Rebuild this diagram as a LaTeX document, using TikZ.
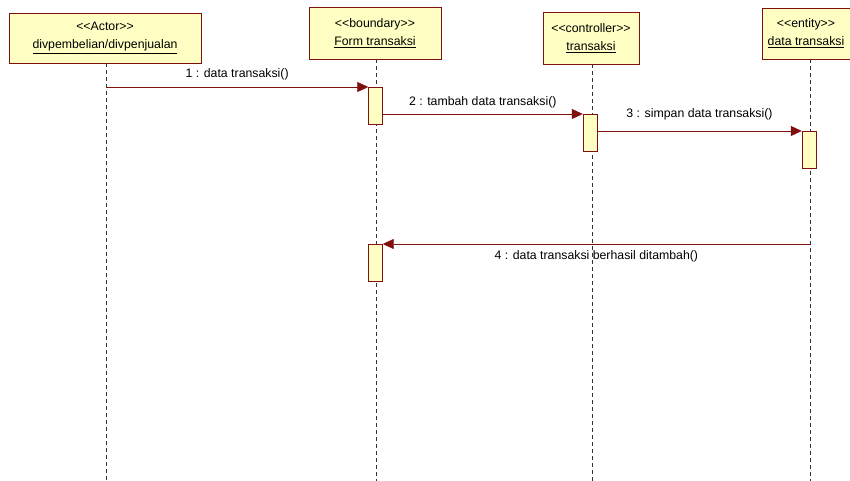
\documentclass[tikz,border=0pt]{standalone}
\usepackage{fontspec}
\setmainfont{Liberation Sans}
\usetikzlibrary{arrows.meta, positioning}

\definecolor{umlred}{RGB}{128,16,16}
\definecolor{umlfill}{RGB}{255,255,196}

\begin{document}
\begin{tikzpicture}[
            x = 1pt,
            y = -1pt,
            > = {Triangle[length=11pt, width=10pt]},
            font = \fontsize{12.3}{18}\selectfont,
            semithick
        ]

        \tikzstyle{head}=[
            draw = umlred,
            fill = umlfill,
            thin,
            align = center,
            inner sep = 0pt
        ]
        \tikzstyle{bar}=[
            draw = umlred,
            fill = umlfill,
            thin,
            minimum width = 14pt,
            minimum height = 37pt,
            inner sep = 0pt
        ]
        \tikzstyle{life}=[thin, black!80, dash pattern=on 4pt off 3pt]
        \tikzstyle{msg}=[->, umlred, line width=0.8pt]

        \useasboundingbox (0,0) rectangle (850,481);

        % lifeline heads
		\node[head, minimum width=192pt, minimum height=50pt] (actor) at (105,38) {<{}<Actor>{}>\\\underline{divpembelian/divpenjualan}};
        \node[head, minimum width=132pt, minimum height=52pt] (form) at (375,33) {<{}<boundary>{}>\\\underline{Form transaksi}};
        \node[head, minimum width=96pt, minimum height=52pt] (ctrl) at (591,38) {<{}<controller>{}>\\\underline{transaksi}};
        \node[head, minimum width=88pt, minimum height=51pt] (entity) at (806,33.5) {<{}<entity>{}>\\\underline{data transaksi}};

        % lifelines
        \coordinate (actortop) at (106,63);
        \coordinate (actorend) at (106,481);
        \coordinate (formend) at (376,481);
        \coordinate (ctrlend) at (592,481);
        \coordinate (entitytop) at (810,59);
        \coordinate (entityend) at (810,481);
        \draw[life] (actortop) -- (actorend);
        \draw[life] (form.south -| formend) -- (formend);
        \draw[life] (ctrl.south -| ctrlend) -- (ctrlend);
        \draw[life] (entitytop) -- (entityend);

        % activations
        \node[bar, anchor=north] (form1) at (375.5,87) {};
        \node[bar, anchor=north] (ctrl1) at (590,114) {};
        \node[bar, anchor=north] (entity1) at (809,131) {};
        \node[bar, anchor=north] (form2) at (375.5,244) {};

        % messages
        \coordinate (m1) at (106,87);
        \coordinate (m4) at (810,244);
        \draw[msg] (m1) -- (form1.north west) node[midway, above=3pt, text=black] {1 : data transaksi()};
        \draw[msg] (form1.east |- ctrl1.north) -- (ctrl1.north west) node[midway, above=2pt, text=black] {2 : tambah data transaksi()};
        \draw[msg] (ctrl1.east |- entity1.north) -- (entity1.north west) node[midway, above=7pt, text=black] {3 : simpan data transaksi()};
        \draw[msg] (m4) -- (form2.north east) node[midway, below=3pt, text=black] {4 : data transaksi berhasil ditambah()};

    \end{tikzpicture}
\end{document}
